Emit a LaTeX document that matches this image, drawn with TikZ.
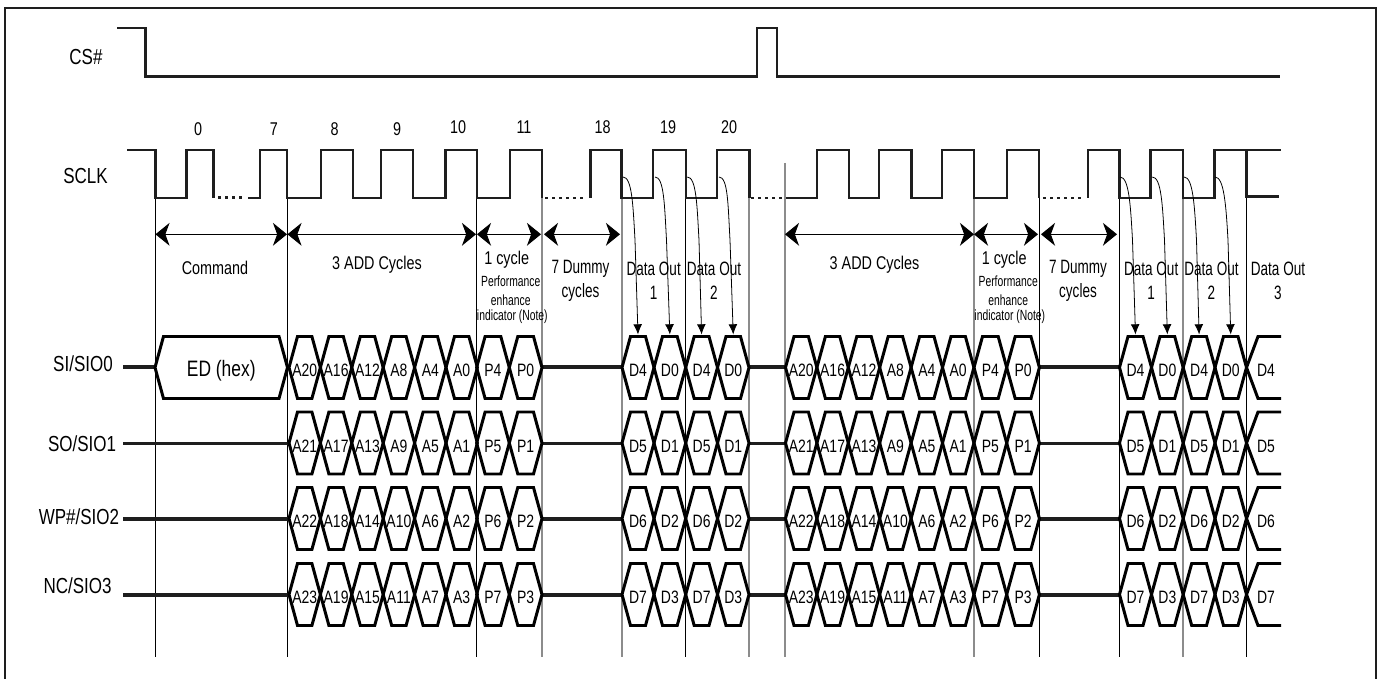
\documentclass[tikz,border=0pt]{standalone}
\usepackage{fontspec}
\setmainfont[FakeStretch=0.78]{Liberation Sans}
\newfontfamily\narrowfont[FakeStretch=0.70]{Liberation Sans}
\usetikzlibrary{arrows.meta,calc}
\definecolor{ink}{HTML}{1E1E1E}
\definecolor{guide}{HTML}{8C8C8C}
\tikzset{
  sig/.style={line width=1.45pt,ink},
  rowline/.style={line width=1.9pt,ink},
  busline/.style={line width=1.7pt,black,line join=miter},
  dots/.style={line width=1.5pt,ink,dash pattern=on 1.7pt off 2.3pt},
  edge/.style={line width=.55pt,black},
  edgegray/.style={line width=.7pt,guide},
  span/.style={line width=.6pt,black,{Stealth[length=8pt,width=13pt,inset=2.4pt]}-{Stealth[length=8pt,width=13pt,inset=2.4pt]}},
  tick/.style={line width=.45pt,black,-{Latex[length=5.8pt,width=5pt]}},
  lab/.style={inner sep=0pt,align=center,font=\fontsize{10.5}{13.6}\selectfont},
  outlab/.style={inner sep=0pt,align=center,font=\narrowfont\fontsize{11}{13.6}\selectfont},
  signame/.style={inner sep=0pt,font=\fontsize{12.4}{14}\selectfont},
  cell/.style={inner sep=0pt,font=\fontsize{10.2}{11}\selectfont},
  note/.style={inner sep=0pt,align=center,font=\narrowfont\fontsize{8.4}{10}\selectfont},
}
% one bus cell: left, right, middle, name, text
\newcommand{\buscell}[5]{
  \draw[busline] (#1,#3) -- (#1+8.5,#3-31) -- (#2-8.5,#3-31) -- (#2,#3) -- (#2-8.5,#3+31) -- (#1+8.5,#3+31) -- cycle;
  \node[cell] (#4) at ({(#1+#2)/2},#3+3) {#5};
  \coordinate (#4top) at ({(#1+#2)/2},#3-31);
}
\begin{document}
\begin{tikzpicture}[x=.02cm,y=-.02cm]
\useasboundingbox (0,0) rectangle (1384,679);
\fill[white] (0,0) rectangle (1384,679);
\draw[line width=1.2pt,ink] (5,679) -- (5,8) -- (1376,8) -- (1376,679);
% guides
\foreach \gx in {155,287.5,476.6,685.5,1039.5,1119.5,1246.5}{\draw[edge] (\gx,198) -- (\gx,657);}
\foreach \gx in {542,622,749,974,1183}{\draw[edgegray] (\gx,198) -- (\gx,657);}
\draw[edgegray] (785,163) -- (785,657);
% CS#
\node[signame] (csname) at (86,57) {CS\#};
\draw[sig] (117,28) -| (145.5,76.5) -| (757,28) -| (777,76.5) -- (1280,76.5);
% SCLK
\node[signame] (sclkname) at (85.5,176) {SCLK};
\draw[sig] (127,150) -| (155.5,198) -| (186.5,150) -| (213.5,198);
\draw[dots] (218,197.5) -- (245,197.5);
\draw[sig] (248,198) -| (260,150) -| (287,198) -| (321,150) -| (353,198) -| (381,150) -| (413,198) -| (445.5,150) -| (477,198) -| (510,150) -| (542,198);
\draw[dots] (545,198) -- (587,198);
\draw[sig] (590.7,198) -- (590.7,150) -| (621.7,198) -| (653,150) -| (686,198) -| (717,150) -| (749.7,198);
\draw[dots] (751,198) -- (795,198);
\draw[sig] (786,198) -| (817,150) -| (849,198) -| (879,150) -| (911.5,198) -| (942,150) -| (974,198) -| (1007,150) -| (1039,198);
\draw[dots] (1043,198) -- (1085,198);
\draw[sig] (1088,198) -- (1088,150) -| (1119.5,198) -| (1150.7,150) -| (1183,198) -| (1214.7,150) -| (1246.7,198);
\draw[sig] (1246.7,150) -- (1246.7,196.5) -- (1279,196.5);
\draw[line width=.8pt,ink] (1246.7,150) -- (1281,150);
\foreach \tx/\ty/\tn in {198/129/0,274/129/7,334.5/129/8,397/129/9,458/127/10,524/127/11,602.7/127/18,668/127/19,729/127/20}{
  \node[lab] (clk\tn) at (\tx,\ty) {\tn};
}
% spans
\foreach \sa/\sb in {155.5/287,287.5/476,477/541,544/620,785/974,974/1038,1041/1117}{\draw[span] (\sa,234.3) -- (\sb,234.3);}
\node[lab] (cmdtxt) at (215,268) {Command};
\foreach \ox/\pt in {0/a,497.5/b}{
  \node[lab] (add\pt) at (377+\ox,265) {3 ADD Cycles};
  \node[lab] (one\pt) at (506.7+\ox,260) {1 cycle};
  \node[note] (perf\pt) at (510.7+\ox,281.7) {Performance};
  \node[note] (enh\pt) at (510.7+\ox,300) {enhance};
  \node[note] (ind\pt) at (512.3+\ox,317) {indicator (Note)};
  \node[outlab] (dum\pt) at (580.5+\ox,281) {7 Dummy\\cycles};
  \node[outlab] (outa\pt) at (653.7+\ox,281) {Data Out\\1};
  \node[outlab] (outb\pt) at (714+\ox,281) {Data Out\\2};
}
\node[outlab] (outc) at (1278,281) {Data Out\\3};
% names
\node[signame] (sio0) at (83,364) {SI/SIO0};
\node[signame] (sio1) at (82,444) {SO/SIO1};
\node[signame] (sio2) at (79,517) {WP\#/SIO2};
\node[signame] (sio3) at (77.5,586) {NC/SIO3};
% rows
\draw[rowline] (123,367) -- (155,367);
\buscell{155}{287.5}{367.5}{edhex}{\fontsize{12.7}{14}\selectfont ED (hex)}
\draw[rowline] (123,443.5) -- (289,443.5);
\draw[rowline] (123,519) -- (289,519);
\draw[rowline] (123,595) -- (289,595);
\foreach \ry/\ro/\sy in {367.5/0/367,443/1/443.5,518.5/2/519,594.5/3/595}{
  \draw[rowline] (542,\sy) -- (622,\sy);
  \draw[rowline] (749,\sy) -- (785,\sy);
  \draw[rowline] (1039,\sy) -- (1119.5,\sy);
  \foreach \ox/\pt in {289/a,785.5/b}{
    \foreach \i/\n in {0/20,1/16,2/12,3/8,4/4,5/0}{
      \pgfmathtruncatemacro{\lbl}{\n+\ro}
      \buscell{\ox+\i*31.4}{\ox+\i*31.4+31.4}{\ry}{a\lbl\pt}{A\lbl}
    }
  }
  \pgfmathtruncatemacro{\pa}{4+\ro}
  \foreach \ox/\pt in {476.6/a,974/b}{
    \buscell{\ox}{\ox+32.7}{\ry}{ph\ro\pt}{P\pa}
    \buscell{\ox+32.7}{\ox+65.4}{\ry}{pl\ro\pt}{P\ro}
  }
  \foreach \ox/\pt in {622/a,1119.5/b}{
    \buscell{\ox}{\ox+32}{\ry}{da\ro\pt}{D\pa}
    \buscell{\ox+32}{\ox+63.7}{\ry}{db\ro\pt}{D\ro}
    \buscell{\ox+63.7}{\ox+95.5}{\ry}{dc\ro\pt}{D\pa}
    \buscell{\ox+95.5}{\ox+127}{\ry}{dd\ro\pt}{D\ro}
  }
  \draw[busline] (1281,\ry-31) -- (1258,\ry-31) -- (1246.5,\ry) -- (1258,\ry+31) -- (1281,\ry+31);
  \node[cell] (dlast\ro) at (1266,\ry+3) {D\pa};
}
% data out arrows
\foreach \sx/\tx/\tg in {623/638/da0a,655/669.5/db0a,687.3/702/dc0a,719/733/dd0a,1120/1135.5/da0b,1152.3/1167.5/db0b,1184/1199.5/dc0b,1215/1231/dd0b}{
  \draw[tick] (\sx,177) .. controls (\sx+9,177) and (\tx-5,205) .. (\tx-3,240) -- ($(\tg top)+(0,-2)$);
}
\end{tikzpicture}
\end{document}
